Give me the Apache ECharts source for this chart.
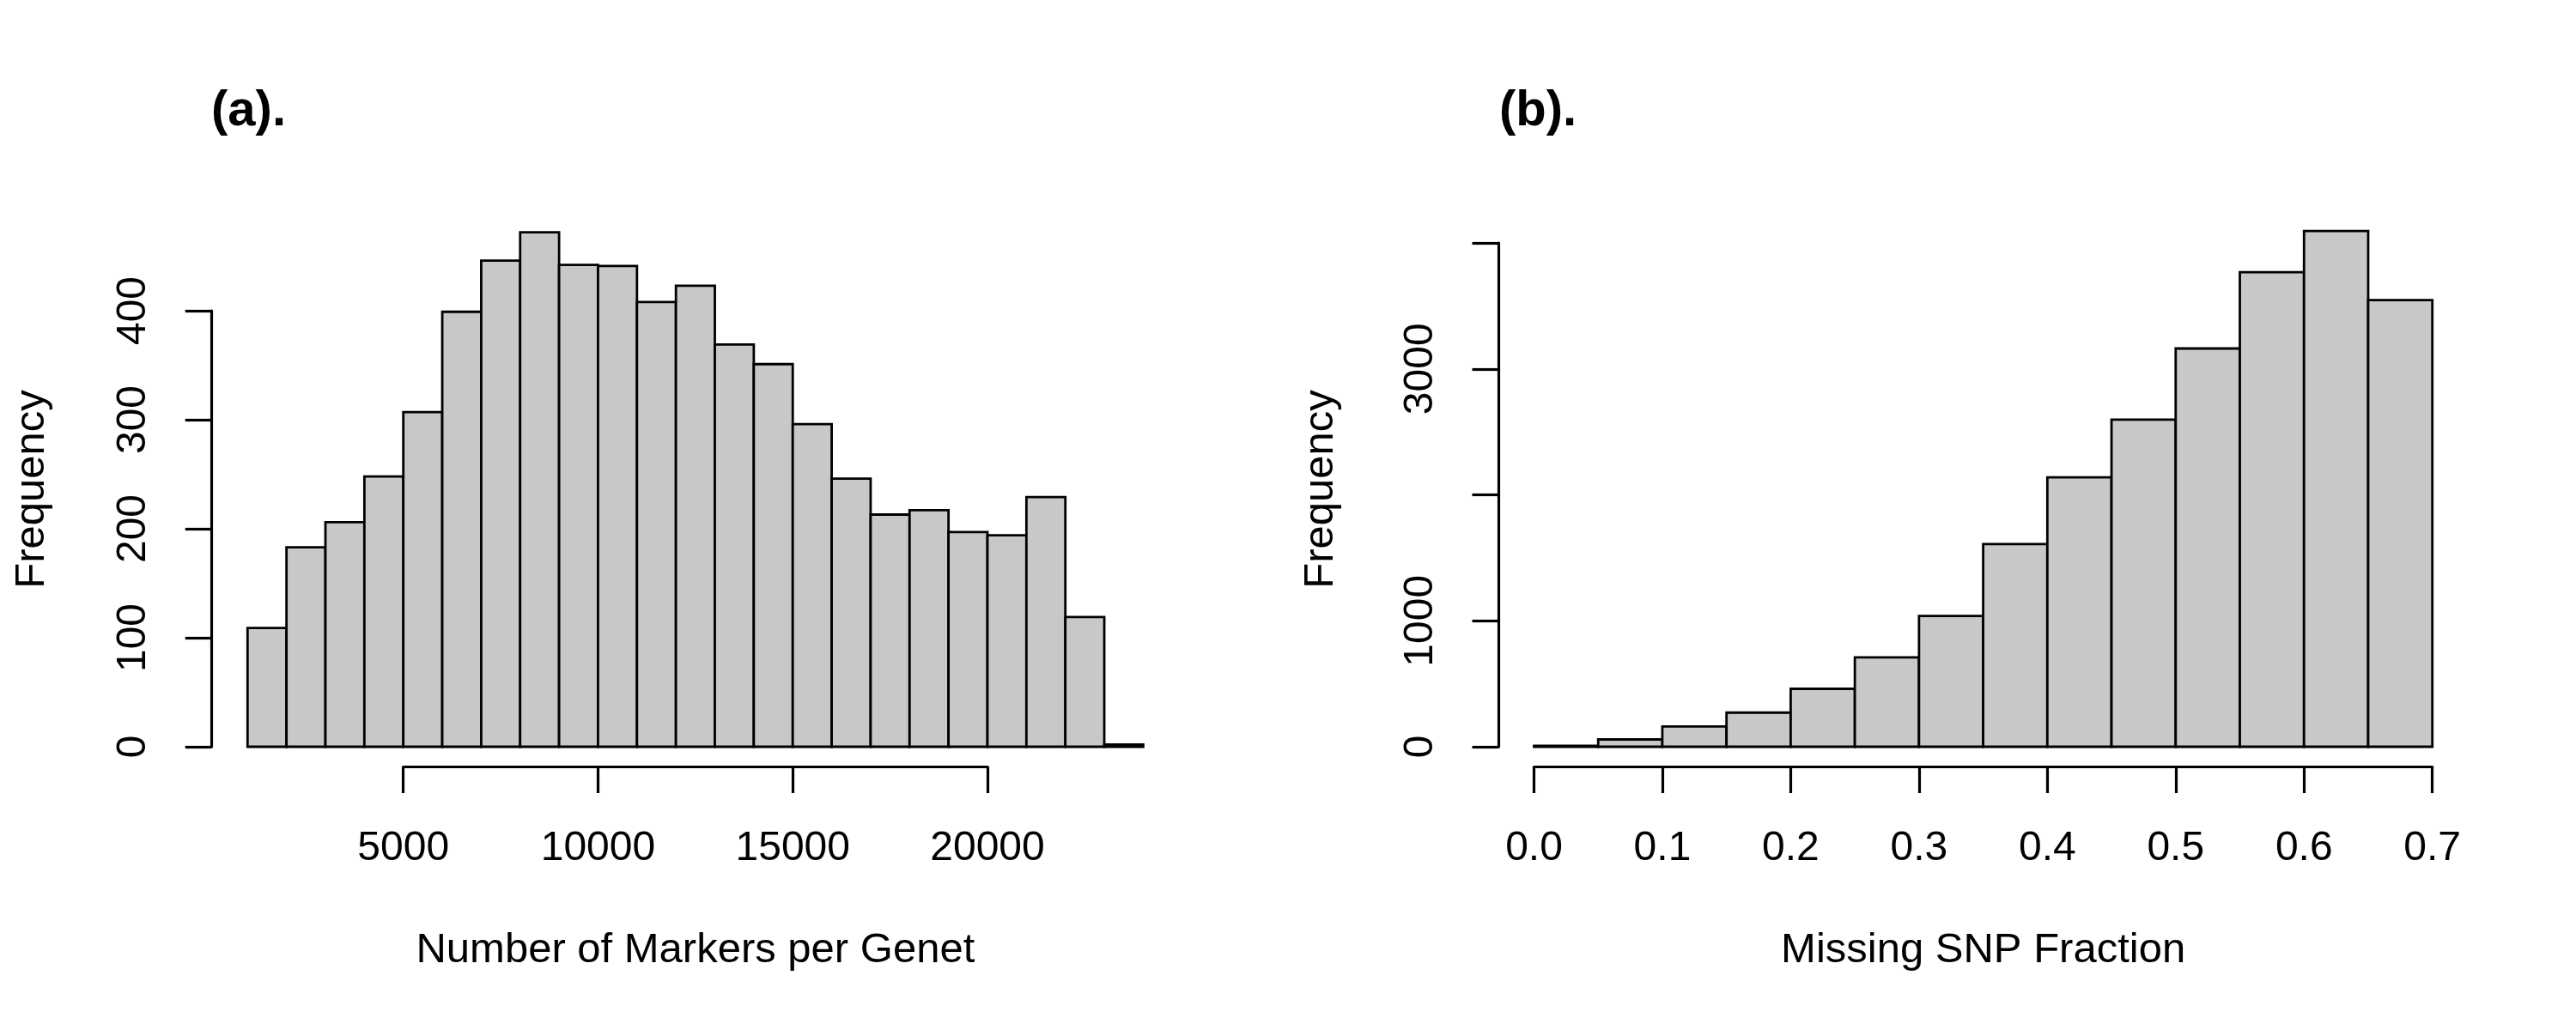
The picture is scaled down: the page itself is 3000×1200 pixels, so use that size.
<!DOCTYPE html>
<html>
<head>
<meta charset="utf-8">
<script src="https://cdn.jsdelivr.net/npm/echarts@6/dist/echarts.min.js"></script>
<style>
  html, body { margin: 0; padding: 0; background: #fff; }
  #chart { width: 3000px; height: 1200px; }
</style>
</head>
<body>
<div id="chart"></div>
<script>
// (a) number of markers per genet, bins of 1000
var markerBreaks = [1000, 2000, 3000, 4000, 5000, 6000, 7000, 8000, 9000, 10000, 11000, 12000,
  13000, 14000, 15000, 16000, 17000, 18000, 19000, 20000, 21000, 22000, 23000, 24000];
var markerCounts = [109, 183, 206, 248, 307, 399, 446, 472, 442, 441, 408, 423,
  369, 351, 296, 246, 213, 217, 197, 194, 229, 119, 2];
var markerTicks = [5000, 10000, 15000, 20000];
var markerFreqTicks = [0, 100, 200, 300, 400];

// (b) missing SNP fraction, bins of 0.05
var missBreaks = [0, 0.05, 0.1, 0.15, 0.2, 0.25, 0.3, 0.35, 0.4, 0.45, 0.5, 0.55, 0.6, 0.65, 0.7];
var missCounts = [8, 58, 161, 271, 460, 710, 1039, 1609, 2139, 2597, 3162, 3768, 4094, 3546];
var missTicks = [0, 0.1, 0.2, 0.3, 0.4, 0.5, 0.6, 0.7];
var missFreqTicks = [0, 1000, 2000, 3000, 4000];
var missFreqLabels = ["0", "1000", "", "3000", ""]; // R drops overlapping labels

var FONT = "Liberation Sans";

function toRows(breaks, counts) {
  var rows = [];
  for (var i = 0; i < counts.length; i++) {
    rows.push([breaks[i], breaks[i + 1], counts[i]]);
  }
  return rows;
}

function renderBin(params, api) {
  var p0 = api.coord([api.value(0), 0]);
  var p1 = api.coord([api.value(1), api.value(2)]);
  return {
    type: "rect",
    shape: { x: p0[0], y: p1[1], width: p1[0] - p0[0], height: p0[1] - p1[1] },
    style: { fill: "#c8c8c8", stroke: "#000", lineWidth: 2.8 },
  };
}

var axisLineStyle = { color: "#000", width: 3.2 };

function xAxisOf(gridIndex, ticks, name, fmt) {
  return {
    type: "value",
    gridIndex: gridIndex,
    min: ticks[0],
    max: ticks[ticks.length - 1],
    interval: ticks[1] - ticks[0],
    offset: 23,
    splitLine: { show: false },
    axisLine: { show: true, onZero: false, lineStyle: axisLineStyle },
    axisTick: { show: true, length: 31, lineStyle: axisLineStyle },
    axisLabel: {
      margin: 72,
      color: "#000",
      fontFamily: FONT,
      fontSize: 48,
      formatter: fmt,
    },
    name: name,
    nameLocation: "middle",
    nameGap: 190,
    nameTextStyle: { color: "#000", fontFamily: FONT, fontSize: 49 },
  };
}

function yAxisOf(gridIndex, ticks, offset, fmt) {
  return {
    type: "value",
    gridIndex: gridIndex,
    min: ticks[0],
    max: ticks[ticks.length - 1],
    interval: ticks[1] - ticks[0],
    offset: offset,
    splitLine: { show: false },
    axisLine: { show: true, onZero: false, lineStyle: axisLineStyle },
    axisTick: { show: true, length: 31, lineStyle: axisLineStyle },
    axisLabel: {
      rotate: 90,
      margin: 67,
      color: "#000",
      fontFamily: FONT,
      fontSize: 48,
      formatter: fmt,
    },
  };
}

var chart = echarts.init(document.getElementById("chart"), null, { renderer: "canvas" });

chart.setOption({
  backgroundColor: "#fff",
  animation: false,
  title: [
    {
      text: "(a).",
      left: 246,
      top: 101,
      padding: 0,
      textStyle: { fontFamily: FONT, fontWeight: "bold", fontSize: 58, color: "#000" },
    },
    {
      text: "(b).",
      left: 1746,
      top: 101,
      padding: 0,
      textStyle: { fontFamily: FONT, fontWeight: "bold", fontSize: 58, color: "#000" },
    },
  ],
  grid: [
    { left: 469.7, top: 362, width: 680.3, height: 508, outerBoundsMode: "none" },
    { left: 1786.5, top: 283, width: 1046.2, height: 587, outerBoundsMode: "none" },
  ],
  xAxis: [
    xAxisOf(0, markerTicks, "Number of Markers per Genet", function (v) { return String(v); }),
    xAxisOf(1, missTicks, "Missing SNP Fraction", function (v) { return v.toFixed(1); }),
  ],
  yAxis: [
    yAxisOf(0, markerFreqTicks, 223, function (v) { return String(v); }),
    yAxisOf(1, missFreqTicks, 41, function (v) {
      var i = missFreqTicks.indexOf(Math.round(v));
      return i >= 0 ? missFreqLabels[i] : "";
    }),
  ],
  series: [
    {
      type: "custom",
      xAxisIndex: 0,
      yAxisIndex: 0,
      clip: false,
      renderItem: renderBin,
      encode: { x: [0, 1], y: 2 },
      data: toRows(markerBreaks, markerCounts),
    },
    {
      type: "custom",
      xAxisIndex: 1,
      yAxisIndex: 1,
      clip: false,
      renderItem: renderBin,
      encode: { x: [0, 1], y: 2 },
      data: toRows(missBreaks, missCounts),
    },
  ],
  graphic: [
    {
      type: "text",
      x: 37,
      y: 570,
      rotation: Math.PI / 2,
      style: {
        text: "Frequency",
        fill: "#000",
        font: "49px 'Liberation Sans'",
        align: "center",
        verticalAlign: "middle",
      },
    },
    {
      type: "text",
      x: 1538,
      y: 570,
      rotation: Math.PI / 2,
      style: {
        text: "Frequency",
        fill: "#000",
        font: "49px 'Liberation Sans'",
        align: "center",
        verticalAlign: "middle",
      },
    },
  ],
});
</script>
</body>
</html>
